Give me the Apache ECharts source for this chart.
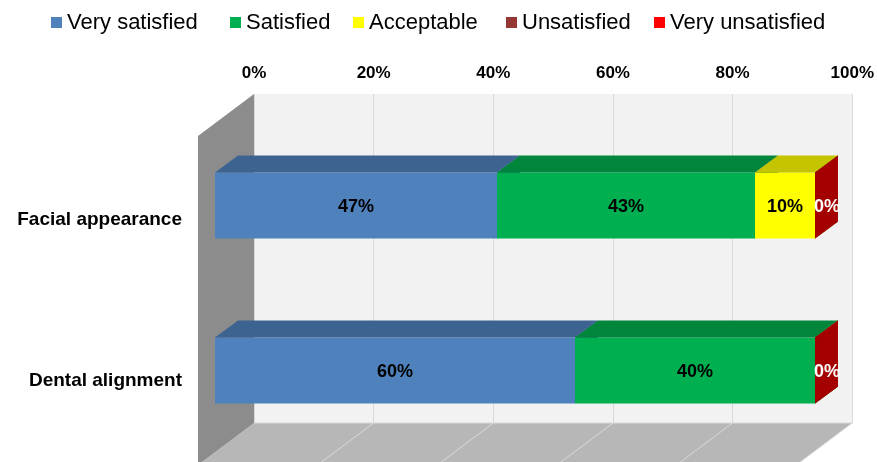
<!DOCTYPE html>
<html>
<head>
<meta charset="utf-8">
<script src="https://cdn.jsdelivr.net/npm/echarts@6/dist/echarts.min.js"></script>
<style>html,body{margin:0;padding:0;background:#fff}#c{width:877px;height:462px}</style>
</head>
<body>
<div id="c"></div>
<script>
// ---- data ----
const categories = ['Facial appearance', 'Dental alignment'];
const seriesNames = ['Very satisfied', 'Satisfied', 'Acceptable', 'Unsatisfied', 'Very unsatisfied'];
const verySatisfied = [47, 60];
const satisfied = [43, 40];
const acceptable = [10, 0];
const unsatisfied = [0, 0];
const veryUnsatisfied = [0, 0];
const axisMin = 0, axisMax = 100, axisStep = 20;

// ---- style ----
const FONT = 'Liberation Sans, Arial, sans-serif';
const frontColors = ['#4F81BD', '#00B050', '#FFFF00', '#953735', '#FF0000'];
const topColors   = ['#3D6391', '#00853D', '#C4C400', '#722A29', '#BF0000'];
const sideColors  = ['#3A5E8A', '#007A38', '#B8B800', '#6B2524', '#A50000'];
const labelColors = ['#000', '#000', '#000', '#fff', '#fff'];
const legendLeft = [51, 230, 353, 506, 654];
const BAR_DX = 23, BAR_DY = -17;       // bar depth
const WALL_DX = -56, WALL_DY = 42;     // box depth

const allValues = [verySatisfied, satisfied, acceptable, unsatisfied, veryUnsatisfied];

function stackedData(s) {
  return categories.map((c, i) => {
    let start = 0;
    for (let k = 0; k < s; k++) start += allValues[k][i];
    return [start, start + allValues[s][i], i, allValues[s][i]];
  });
}

const barSeries = seriesNames.map((name, s) => ({
  name: name,
  type: 'custom',
  xAxisIndex: 1,
  yAxisIndex: 1,
  z: 5 + s,
  itemStyle: { color: frontColors[s] },
  data: stackedData(s),
  renderItem: function (params, api) {
    const start = api.value(0), end = api.value(1), cat = api.value(2), val = api.value(3);
    const a = api.coord([start, cat]);
    const b = api.coord([end, cat]);
    const h = api.size([0, 1])[1] * 0.4;
    const x0 = a[0], x1 = b[0], yT = a[1] - h / 2, yB = a[1] + h / 2;
    const children = [];
    if (x1 - x0 > 0.01) {
      children.push({ type: 'rect', shape: { x: x0, y: yT, width: x1 - x0, height: h },
        style: { fill: frontColors[s] } });
      children.push({ type: 'polygon', shape: { points: [[x0, yT], [x1, yT], [x1 + BAR_DX, yT + BAR_DY], [x0 + BAR_DX, yT + BAR_DY]] },
        style: { fill: topColors[s] } });
    }
    children.push({ type: 'polygon', shape: { points: [[x1, yT], [x1 + BAR_DX, yT + BAR_DY], [x1 + BAR_DX, yB + BAR_DY], [x1, yB]] },
      style: { fill: sideColors[s] } });
    if (val > 0) {
      children.push({ type: 'text', style: { text: val + '%', x: (x0 + x1) / 2, y: a[1] + 2,
        align: 'center', verticalAlign: 'middle', fill: labelColors[s],
        fontSize: 18, fontWeight: 'bold', fontFamily: FONT } });
    } else if (s === seriesNames.length - 1) {
      children.push({ type: 'text', style: { text: val + '%', x: x1 + 12, y: a[1] + 2,
        align: 'center', verticalAlign: 'middle', fill: labelColors[s],
        fontSize: 18, fontWeight: 'bold', fontFamily: FONT } });
    }
    return { type: 'group', children: children };
  }
}));

const wallSeries = {
  name: 'walls',
  type: 'custom',
  xAxisIndex: 0,
  yAxisIndex: 0,
  z: 1,
  silent: true,
  data: [[0, 0]],
  renderItem: function (params, api) {
    const band = api.size([0, 1])[1];
    const p0 = api.coord([axisMin, 0]);
    const p1 = api.coord([axisMax, categories.length - 1]);
    const x0 = p0[0], x1 = p1[0];
    const top = p0[1] - band / 2, bottom = p1[1] + band / 2;
    const children = [];
    children.push({ type: 'polygon', shape: { points: [[x0, bottom], [x1, bottom], [x1 + WALL_DX, bottom + WALL_DY], [x0 + WALL_DX, bottom + WALL_DY]] },
      style: { fill: '#B7B7B7' } });
    children.push({ type: 'polygon', shape: { points: [[x0, top], [x0, bottom], [x0 + WALL_DX, bottom + WALL_DY], [x0 + WALL_DX, top + WALL_DY]] },
      style: { fill: '#8C8C8C' } });
    for (let v = axisMin + axisStep; v <= axisMax; v += axisStep) {
      const xv = api.coord([v, 0])[0];
      children.push({ type: 'line', shape: { x1: xv, y1: bottom, x2: xv + WALL_DX, y2: bottom + WALL_DY },
        style: { stroke: '#D9D9D9', lineWidth: 1 } });
    }
    children.push({ type: 'line', shape: { x1: x0, y1: bottom, x2: x1, y2: bottom },
      style: { stroke: '#D9D9D9', lineWidth: 1 } });
    return { type: 'group', children: children };
  }
};

const legends = seriesNames.map((name, s) => ({
  data: [{ name: name, itemStyle: { color: frontColors[s] } }],
  left: legendLeft[s],
  top: 11,
  padding: 0,
  icon: 'rect',
  itemWidth: 11,
  itemHeight: 11,
  itemGap: 0,
  selectedMode: false,
  textStyle: { fontSize: 22, fontFamily: FONT, color: '#000', lineHeight: 23 }
}));

const option = {
  animation: false,
  backgroundColor: '#fff',
  textStyle: { fontFamily: FONT },
  legend: legends,
  grid: [
    { left: 254, top: 94, width: 600, height: 329, show: true, backgroundColor: '#F2F2F2', borderWidth: 0 },
    { left: 215, top: 123, width: 600, height: 330 },
    { left: 215, top: 139, width: 600, height: 330 }
  ],
  xAxis: [
    { gridIndex: 0, type: 'value', min: axisMin, max: axisMax, interval: axisStep, position: 'top',
      axisLine: { show: false }, axisTick: { show: false },
      axisLabel: { formatter: '{value}%', fontWeight: 'bold', fontSize: 17, color: '#000', margin: 12, fontFamily: FONT },
      splitLine: { show: true, lineStyle: { color: '#D9D9D9', width: 1 } } },
    { gridIndex: 1, type: 'value', min: axisMin, max: axisMax, show: false },
    { gridIndex: 2, type: 'value', min: axisMin, max: axisMax, show: false }
  ],
  yAxis: [
    { gridIndex: 0, type: 'category', data: categories, inverse: true, show: false },
    { gridIndex: 1, type: 'category', data: categories, inverse: true, show: false },
    { gridIndex: 2, type: 'category', data: categories, inverse: true,
      axisLine: { show: false }, axisTick: { show: false }, splitLine: { show: false },
      axisLabel: { margin: 33, fontWeight: 'bold', fontSize: 19, color: '#000', fontFamily: FONT } }
  ],
  series: [wallSeries].concat(barSeries)
};

const chart = echarts.init(document.getElementById('c'), null, { renderer: 'canvas' });
chart.setOption(option);
</script>
</body>
</html>
